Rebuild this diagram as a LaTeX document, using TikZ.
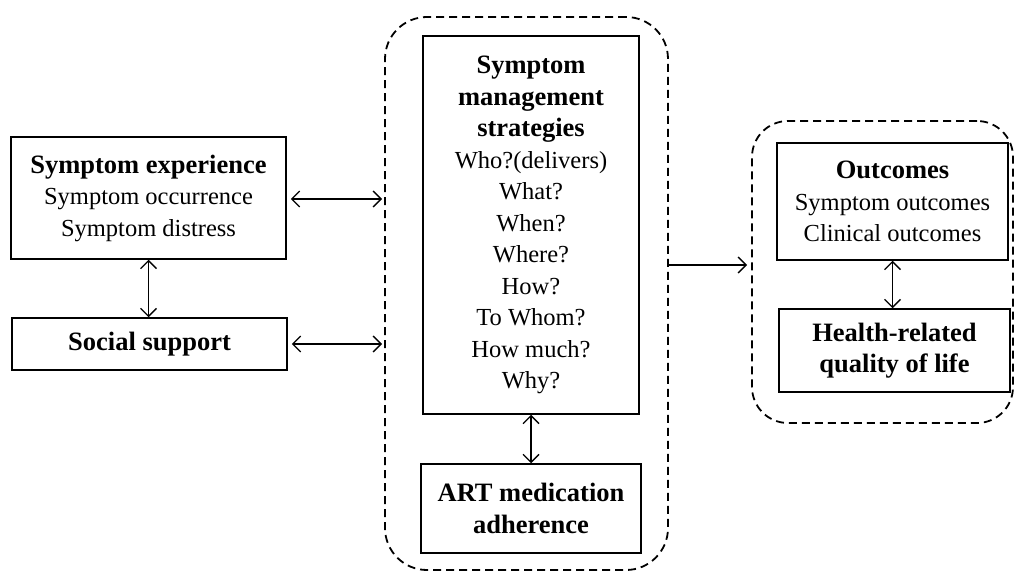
\documentclass[tikz,border=0pt]{standalone}
\usepackage{fontspec}
\setmainfont{Liberation Serif}
\usetikzlibrary{arrows.meta}
\newcommand{\bl}[1]{{\fontsize{26.5}{31.5}\selectfont\bfseries #1}}
\begin{document}
\begin{tikzpicture}[x=1pt,y=-1pt,
  box/.style={draw,line width=1.5pt,align=center,inner sep=0pt,font=\fontsize{24.5}{31.5}\selectfont},
  grp/.style={draw,line width=1.8pt,dash pattern=on 8pt off 5pt},
  link/.style={line width=1.4pt,{Straight Barb[length=8pt,width=16pt,line width=1.4pt]}-{Straight Barb[length=8pt,width=16pt,line width=1.4pt]}},
  flow/.style={line width=1.4pt,-{Straight Barb[length=8pt,width=16pt,line width=1.4pt]}}]
\useasboundingbox (0,0) rectangle (1015,572);
\node[grp,rounded corners=42pt,minimum width=283pt,minimum height=553pt] (mid) at (526.5,293.5) {};
\node[grp,rounded corners=36pt,minimum width=261pt,minimum height=302pt] (rgt) at (882.5,272) {};
\node[box,minimum width=275pt,minimum height=122pt] (exp) at (148.5,198) {\bl{Symptom experience}\\Symptom occurrence\\Symptom distress};
\node[box,minimum width=275pt,minimum height=52pt] (soc) at (149.5,344) {\bl{Social support}};
\node[box,minimum width=216pt,minimum height=378pt] (smg) at (531,225) {\bl{Symptom}\\\bl{management}\\\bl{strategies}\\Who?(delivers)\\What?\\When?\\Where?\\How?\\To Whom?\\How much?\\Why?};
\node[box,minimum width=220pt,minimum height=89pt] (art) at (531,508.5) {\bl{ART medication}\\\bl{adherence}};
\node[box,minimum width=231pt,minimum height=117pt] (out) at (892.5,201.5) {\bl{Outcomes}\\Symptom outcomes\\Clinical outcomes};
\node[box,minimum width=231pt,minimum height=83pt] (hrq) at (894.5,350.5) {\bl{Health-related}\\\bl{quality of life}};
\coordinate (e1) at ([xshift=4pt,yshift=-1pt]exp.east);
\coordinate (s1) at ([xshift=4pt]soc.east);
\coordinate (m1) at (mid.east |- 0,265);
\coordinate (r1) at ([xshift=-4pt]rgt.west |- 0,265);
\draw[link] (e1) -- ([xshift=-2pt]e1 -| mid.west);
\draw[link] (s1) -- ([xshift=-2pt]s1 -| mid.west);
\draw[link] (exp.south) -- (exp.south |- soc.north);
\draw[link] (smg.south) -- (smg.south |- art.north);
\draw[link] (out.south) -- (out.south |- hrq.north);
\draw[flow] (m1) -- (r1);
\end{tikzpicture}
\end{document}
